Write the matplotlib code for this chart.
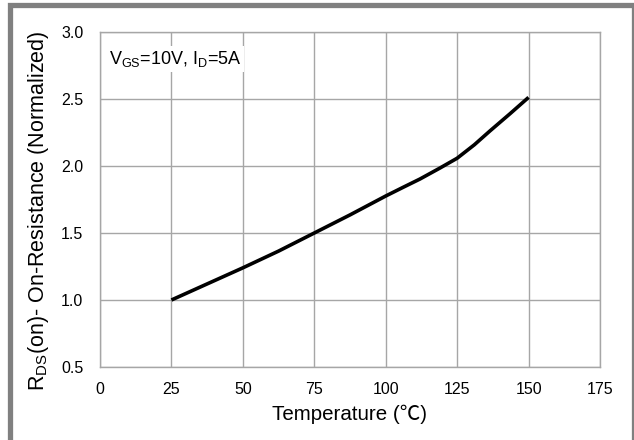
import matplotlib
matplotlib.use("Agg")
import matplotlib.pyplot as plt
from matplotlib.patches import Rectangle

plt.rcParams['font.family'] = ['Liberation Sans', 'DejaVu Sans']

temperature = [25, 37.5, 50, 62.5, 75, 87.5, 100, 106, 112, 119, 125, 131, 136.5, 143.5, 150]
rds_norm = [1.0, 1.12, 1.24, 1.365, 1.5, 1.635, 1.776, 1.84, 1.903, 1.985, 2.058, 2.158, 2.262, 2.39, 2.512]

x_ticks = [0, 25, 50, 75, 100, 125, 150, 175]
y_ticks = [0.5, 1.0, 1.5, 2.0, 2.5, 3.0]

W, H = 634, 440
fig = plt.figure(figsize=(W/100, H/100), dpi=100)
ax = fig.add_axes([100/W, 1-367/H, 500/W, 335/H])

ax.plot(temperature, rds_norm, color='black', linewidth=2.6, solid_capstyle='butt',
        solid_joinstyle='round', zorder=3)

ax.set_xlim(0, 175)
ax.set_ylim(0.5, 3.0)
ax.set_xticks(x_ticks)
ax.set_yticks(y_ticks)
ax.set_xticklabels([str(t) for t in x_ticks])
ax.set_yticklabels([f"{v:.1f}" for v in y_ticks])
ax.tick_params(length=0, labelsize=11.5)
ax.tick_params(axis='y', pad=12)
ax.tick_params(axis='x', pad=11)
ax.grid(True, color='#a6a6a6', linewidth=1.0)
ax.set_axisbelow(True)
for s in ax.spines.values():
    s.set_color('#a6a6a6')
    s.set_linewidth(1.0)

ax.set_xlabel('Temperature (\u2103)', fontsize=14.8, labelpad=5,
              family=['Liberation Sans', 'Noto Sans CJK SC'])
ax.set_ylabel(r'R$_{\mathregular{DS}}$(on)- On-Resistance (Normalized)', fontsize=15.5)
ax.yaxis.set_label_coords(-0.097, 0.466)

ax.text(3, 2.80, r'V$_{\mathregular{GS}}$=10V, I$_{\mathregular{D}}$=5A', fontsize=13, va='center', ha='left',
        bbox=dict(facecolor='white', edgecolor='none', pad=2), zorder=4)

x0, y0 = 9.5/W, 1-5.5/H
fig.patches.append(Rectangle((x0, -0.1), 1.0 - x0, y0 + 0.1, transform=fig.transFigure, fill=False,
                             edgecolor='#808080', linewidth=3.8))

fig.savefig('out.png', dpi=100)
